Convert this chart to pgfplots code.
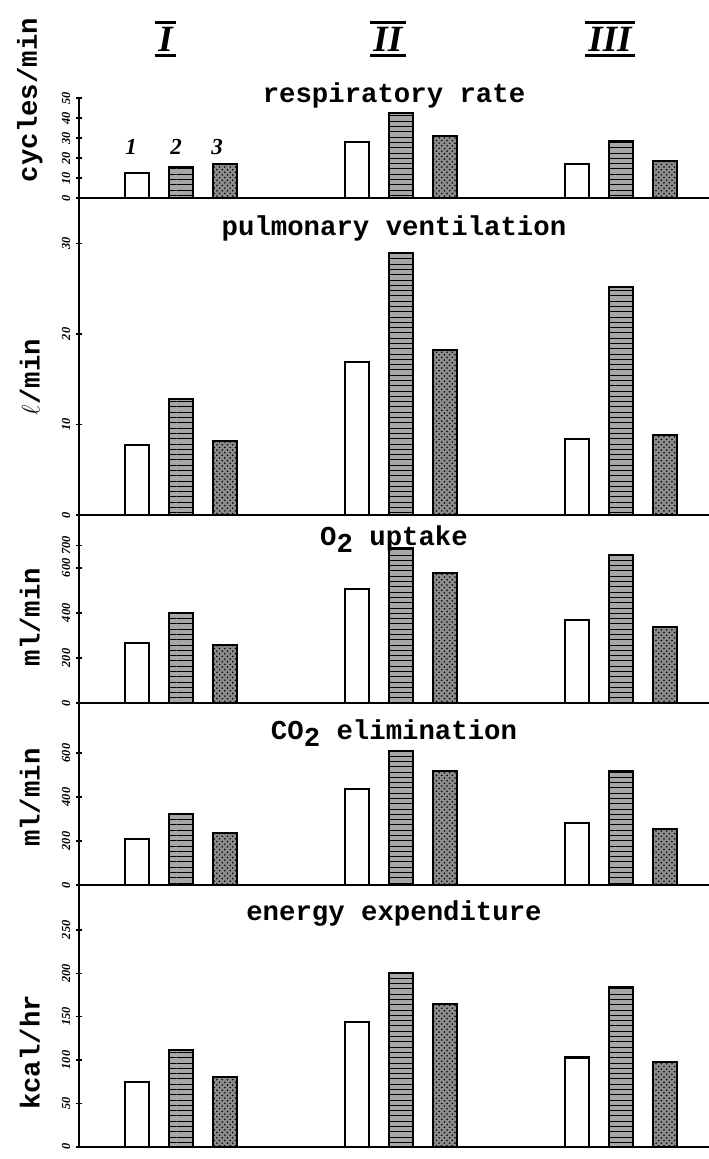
\documentclass[border=0pt]{standalone}
\usepackage{fontspec}
\setmainfont{Liberation Serif}
\newfontfamily\mono{Liberation Mono}
\usepackage{pgfplots}
\usepackage{pgfplotstable}
\pgfplotsset{compat=1.18}
\usetikzlibrary{patterns}

% one group per row: exercise I, II, III; columns = the three conditions
\pgfplotstableread{
g a b c
0 12.5 15.5 17
1 28 42.5 31
2 17 28.5 18.5
}\resp
\pgfplotstableread{
g a b c
0 7.7 12.8 8.2
1 16.9 28.9 18.2
2 8.4 25.2 8.8
}\pulm
\pgfplotstableread{
g a b c
0 267 400 258
1 507 690 578
2 369 658 338
}\oxy
\pgfplotstableread{
g a b c
0 209 323 236
1 436 609 518
2 282 518 255
}\carb
\pgfplotstableread{
g a b c
0 75 112 80
1 144 200 165
2 103 184 98
}\energy

% roman numeral with a bar above and below
\newcommand\rom[1]{\setbox0\hbox{\kern2pt\bfseries\itshape #1\kern2pt}%
  \vbox{\hrule height 1.8pt width \wd0 \kern1.5pt \copy0 \kern1.5pt \hrule height 1.8pt width \wd0}}
\newcommand\ttl{\mono\bfseries\fontsize{15.5}{16}\selectfont}

\pgfplotsset{
  panel/.style={
    scale only axis, width=357.2pt, anchor=south west,
    xmin=-0.464, xmax=2.4, ymin=0,
    axis x line=bottom, axis y line=left, axis line style={-},
    x axis line style={line width=1.5pt},
    y axis line style={line width=0.9pt},
    xtick=\empty, ybar, bar width=0.109, clip=false,
    tick style={black, line width=0.8pt}, major tick length=3pt,
    /pgf/number format/assume math mode=true,
    yticklabel style={rotate=90, anchor=south,
      font=\fontsize{7}{7}\selectfont\bfseries\itshape},
    ylabel style={at={(rel axis cs:-0.078,0.45)}, anchor=center,
      font=\ttl},
  },
  s1/.style={draw=black, line width=1.2pt, fill=white, bar shift=-0.2},
  s2/.style={draw=black, line width=1.2pt, fill=black!35,
    postaction={pattern=horizontal lines}, bar shift=0},
  s3/.style={draw=black, line width=1.2pt, fill=black!45,
    postaction={pattern=crosshatch dots}, bar shift=0.2},
}

\begin{document}
\begin{tikzpicture}
\useasboundingbox (0,0) rectangle (402pt,-657.2pt);

% respiratory rate
\begin{axis}[panel, at={(44.8pt,-112.3pt)}, height=56.7pt, ymax=50,
  ytick={0,10,20,30,40,50}, ylabel={cycles/min},
  ylabel style={at={(rel axis cs:-0.078,0.98)}}]
  \addplot[s1] table[x=g,y=a]{\resp};
  \addplot[s2] table[x=g,y=b]{\resp};
  \addplot[s3] table[x=g,y=c]{\resp};
  \node[font=\ttl] at (rel axis cs:0.5,1.03) {respiratory rate};
  \node[font=\bfseries\itshape\fontsize{13}{13}\selectfont] at (axis cs:-0.227,25.5) {1};
  \node[font=\bfseries\itshape\fontsize{13}{13}\selectfont] at (axis cs:-0.023,25.5) {2};
  \node[font=\bfseries\itshape\fontsize{13}{13}\selectfont] at (axis cs:0.164,25.5) {3};
  \node[font=\fontsize{21}{21}\selectfont] at (axis cs:-0.07,79.5) {\rom{I}};
  \node[font=\fontsize{21}{21}\selectfont] at (axis cs:0.94,79.5) {\rom{II}};
  \node[font=\fontsize{21}{21}\selectfont] at (axis cs:1.95,79.5) {\rom{III}};
\end{axis}

% pulmonary ventilation
\begin{axis}[panel, at={(44.8pt,-292.0pt)}, height=179.7pt, ymax=35,
  ytick={0,10,20,30}, ylabel={$\ell$/min},
  ylabel style={at={(rel axis cs:-0.078,0.435)}}]
  \addplot[s1] table[x=g,y=a]{\pulm};
  \addplot[s2] table[x=g,y=b]{\pulm};
  \addplot[s3] table[x=g,y=c]{\pulm};
  \node[font=\ttl] at (rel axis cs:0.5,0.905) {pulmonary ventilation};
\end{axis}

% O2 uptake
\begin{axis}[panel, at={(44.8pt,-398.6pt)}, height=106.6pt, ymax=835,
  ytick={0,200,400,600,700}, ylabel={ml/min},
  ylabel style={at={(rel axis cs:-0.078,0.457)}}]
  \addplot[s1] table[x=g,y=a]{\oxy};
  \addplot[s2] table[x=g,y=b]{\oxy};
  \addplot[s3] table[x=g,y=c]{\oxy};
  \node[font=\ttl] at (rel axis cs:0.5,0.872) {O\raisebox{-0.45ex}{2} uptake};
\end{axis}

% CO2 elimination
\begin{axis}[panel, at={(44.8pt,-501.8pt)}, height=103.2pt, ymax=827,
  ytick={0,200,400,600}, ylabel={ml/min},
  ylabel style={at={(rel axis cs:-0.078,0.48)}}]
  \addplot[s1] table[x=g,y=a]{\carb};
  \addplot[s2] table[x=g,y=b]{\carb};
  \addplot[s3] table[x=g,y=c]{\carb};
  \node[font=\ttl] at (rel axis cs:0.5,0.835) {CO\raisebox{-0.45ex}{2} elimination};
\end{axis}

% energy expenditure
\begin{axis}[panel, at={(44.8pt,-650.3pt)}, height=148.6pt, ymax=302,
  ytick={0,50,100,150,200,250}, ylabel={kcal/hr},
  ylabel style={at={(rel axis cs:-0.078,0.36)}}]
  \addplot[s1] table[x=g,y=a]{\energy};
  \addplot[s2] table[x=g,y=b]{\energy};
  \addplot[s3] table[x=g,y=c]{\energy};
  \node[font=\ttl] at (rel axis cs:0.5,0.89) {energy expenditure};
\end{axis}
\end{tikzpicture}
\end{document}
